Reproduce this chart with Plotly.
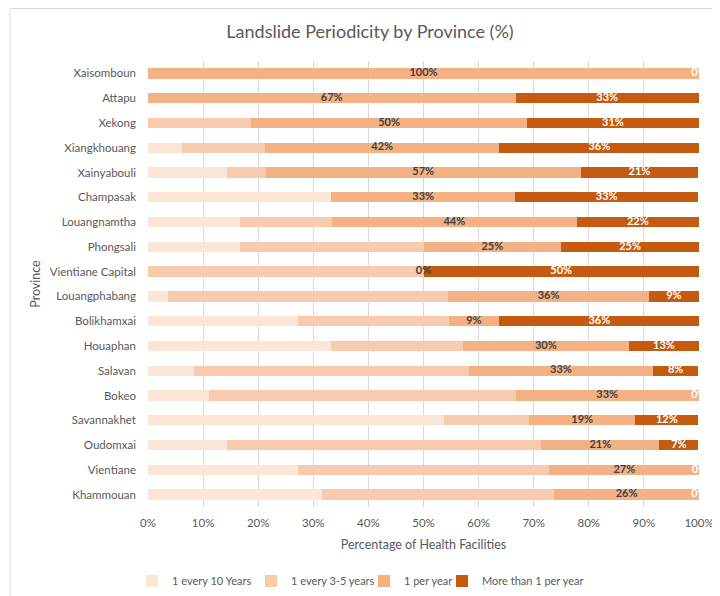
import plotly.graph_objects as go

provinces = ["Xaisomboun", "Attapu", "Xekong", "Xiangkhouang", "Xainyabouli", "Champasak",
             "Louangnamtha", "Phongsali", "Vientiane Capital", "Louangphabang", "Bolikhamxai",
             "Houaphan", "Salavan", "Bokeo", "Savannakhet", "Oudomxai", "Vientiane", "Khammouan"]

every_10_years = [0, 0, 0, 6.1, 14.3, 33.3, 16.7, 16.7, 0, 3.6, 27.3, 33.3, 8.3, 11.1, 53.8, 14.3, 27.3, 31.6]
every_3_5_years = [0, 0, 18.75, 15.2, 7.1, 0, 16.7, 33.3, 50, 50.9, 27.3, 23.8, 50, 55.6, 15.4, 57.1, 45.5, 42.1]
one_per_year = [100, 66.7, 50, 42.4, 57.1, 33.3, 44.4, 25, 0, 36.4, 9.1, 30.2, 33.3, 33.3, 19.2, 21.4, 27.3, 26.3]
more_than_one = [0, 33.3, 31.25, 36.4, 21.4, 33.3, 22.2, 25, 50, 9.1, 36.4, 12.7, 8.3, 0, 11.5, 7.1, 0, 0]

series_names = ["1 every 10 Years", "1 every 3-5 years", "1 per year", "More than 1 per year"]
colors = ["#FBE5D6", "#F8CBAD", "#F4B183", "#C55A11"]

FONT = "Lato"
GREY = "#595959"

# figure geometry (page body adds an 8px offset)
W, H = 712, 588
L, R, T, B = 140, 21, 53, 89
PW = W - L - R
PH = H - T - B

legend_ids = ["legend", "legend2", "legend3", "legend4"]
legend_left_px = [124, 243, 356, 434]  # figure-pixel left edge of each legend entry

fig = go.Figure()
all_series = [every_10_years, every_3_5_years, one_per_year, more_than_one]
for name, vals, col, lg in zip(series_names, all_series, colors, legend_ids):
    fig.add_trace(go.Bar(y=provinces, x=vals, name=name, orientation="h",
                         marker=dict(color=col, line=dict(width=0)),
                         legend=lg, hoverinfo="x+y+name"))

# data labels for the last two series (centered on segments)
base3 = [a + b for a, b in zip(every_10_years, every_3_5_years)]
mid3 = [s + c / 2 for s, c in zip(base3, one_per_year)]
base4 = [s + c for s, c in zip(base3, one_per_year)]
mid4 = [s + d / 2 for s, d in zip(base4, more_than_one)]

fig.add_trace(go.Scatter(x=mid3, y=provinces, mode="text",
                         text=[f"{round(v)}%" for v in one_per_year],
                         textfont=dict(family=FONT, size=11, color="#404040", weight="bold"),
                         showlegend=False, hoverinfo="skip", cliponaxis=True))
fig.add_trace(go.Scatter(x=mid4, y=provinces, mode="text",
                         text=[f"{round(v)}%" for v in more_than_one],
                         textfont=dict(family=FONT, size=11, color="#FFFFFF", weight="bold"),
                         showlegend=False, hoverinfo="skip", cliponaxis=True))

legend_y = (PH - (573 - T)) / PH
legends = {}
for lg, lx in zip(legend_ids, legend_left_px):
    legends[lg] = dict(orientation="h", x=(lx - L) / PW, xanchor="left",
                       y=legend_y, yanchor="middle",
                       font=dict(family=FONT, size=11, color=GREY),
                       itemwidth=30, bgcolor="rgba(0,0,0,0)")

n = len(provinces)
fig.update_layout(
    barmode="stack",
    bargap=0.58,
    width=W, height=H,
    margin=dict(l=L, r=R, t=T, b=B, autoexpand=False),
    paper_bgcolor="white", plot_bgcolor="white",
    font=dict(family=FONT, color=GREY, size=11),
    title=dict(text="Landslide Periodicity by Province (%)", x=(362 - L) / PW, xref="paper",
               xanchor="center", y=1 - 24 / H, yanchor="middle",
               font=dict(family=FONT, size=18, color=GREY)),
    xaxis=dict(range=[0, 100], dtick=10, ticksuffix="%", showgrid=True,
               gridcolor="#D9D9D9", gridwidth=1, zeroline=False, showline=False,
               ticklabelstandoff=7,
               tickfont=dict(family=FONT, size=11.5, color=GREY),
               title=dict(text="Percentage of Health Facilities", standoff=12,
                          font=dict(family=FONT, size=12.5, color=GREY)),
               fixedrange=True),
    yaxis=dict(range=[n - 0.5, -0.5], showgrid=False, zeroline=False, showline=False,
               ticklabelstandoff=11,
               tickfont=dict(family=FONT, size=11.5, color=GREY),
               title=dict(text="Province", standoff=6,
                          font=dict(family=FONT, size=12.5, color=GREY)),
               fixedrange=True),
    shapes=[
        dict(type="line", xref="paper", yref="paper",
             x0=(2 - L) / PW, x1=(W + 10 - L) / PW,
             y0=(PH + T - 0.5) / PH, y1=(PH + T - 0.5) / PH,
             line=dict(color="#D9D9D9", width=1)),
        dict(type="line", xref="paper", yref="paper",
             x0=(2 - L) / PW, x1=(2 - L) / PW,
             y0=(PH + T - 0.5) / PH, y1=-(B + 10) / PH,
             line=dict(color="#D9D9D9", width=1)),
    ],
    **legends,
)

fig.write_html("out.html")
